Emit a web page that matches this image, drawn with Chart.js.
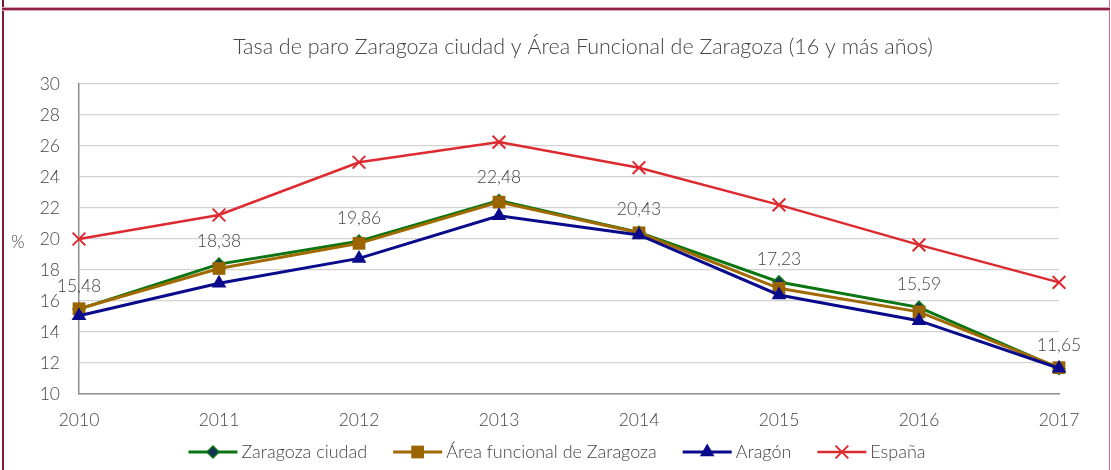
<!DOCTYPE html>
<html><head><meta charset="utf-8">
<script src="https://cdn.jsdelivr.net/npm/chart.js@4"></script>
<style>
html,body{margin:0;padding:0;background:#fff;}
#wrap{position:relative;width:1111px;height:470px;overflow:hidden;background:#fff;}
#c{position:absolute;left:0;top:0;}
.bl{position:absolute;left:2px;top:0;width:2px;height:470px;background:#7d1a3c;}
.br{position:absolute;left:1109px;top:0;width:1px;height:470px;background:#c86f90;}
.bt{position:absolute;left:2px;top:7px;width:1108px;height:2px;background:#8c1f45;border-top:1px solid #dca3b6;border-bottom:1px solid #dca3b6;}
</style></head>
<body>
<div id="wrap">
<canvas id="c" width="1111" height="470"></canvas>
<div class="bl"></div><div class="br"></div><div class="bt"></div>
</div>
<script>
const years = ['2010','2011','2012','2013','2014','2015','2016','2017'];
const zaragozaCiudad = [15.48, 18.38, 19.86, 22.48, 20.43, 17.23, 15.59, 11.65];
const areaFuncional = [15.50, 18.10, 19.72, 22.38, 20.40, 16.82, 15.30, 11.70];
const aragon = [15.05, 17.14, 18.75, 21.50, 20.26, 16.39, 14.73, 11.66];
const espana = [20.00, 21.55, 24.95, 26.25, 24.60, 22.20, 19.62, 17.20];
const seriesNames = ['Zaragoza ciudad', 'Área funcional de Zaragoza', 'Aragón', 'España'];
const titleText = 'Tasa de paro Zaragoza ciudad y Área Funcional de Zaragoza (16 y más años)';
const yAxisLabel = '%';
const yMin = 10, yMax = 30, yStep = 2;

const FONT = 'Lato, "Open Sans", sans-serif';
const TXT = '#444444';

function drawMarker(ctx, style, x, y, r, fill, stroke, bw) {
  ctx.save();
  ctx.fillStyle = fill; ctx.strokeStyle = stroke; ctx.lineWidth = bw;
  ctx.beginPath();
  if (style === 'rect') {
    const s = r * Math.SQRT1_2;
    ctx.rect(x - s, y - s, 2 * s, 2 * s); ctx.fill(); if (bw) ctx.stroke();
  } else if (style === 'rectRot') {
    ctx.moveTo(x, y - r); ctx.lineTo(x + r, y); ctx.lineTo(x, y + r); ctx.lineTo(x - r, y); ctx.closePath();
    ctx.fill(); if (bw) ctx.stroke();
  } else if (style === 'triangle') {
    ctx.moveTo(x, y - r); ctx.lineTo(x + r * 0.866, y + r * 0.5); ctx.lineTo(x - r * 0.866, y + r * 0.5); ctx.closePath();
    ctx.fill(); if (bw) ctx.stroke();
  } else if (style === 'crossRot') {
    const o = r * Math.SQRT1_2;
    ctx.moveTo(x - o, y - o); ctx.lineTo(x + o, y + o); ctx.moveTo(x + o, y - o); ctx.lineTo(x - o, y + o);
    ctx.stroke();
  }
  ctx.restore();
}

const extras = {
  id: 'extras',
  afterDatasetsDraw(chart) {
    const ctx = chart.ctx;
    const meta = chart.getDatasetMeta(0);
    ctx.save();
    ctx.font = '300 17.5px ' + FONT;
    ctx.fillStyle = TXT;
    ctx.textAlign = 'center';
    ctx.textBaseline = 'middle';
    meta.data.forEach((pt, i) => {
      const v = chart.data.datasets[0].data[i];
      ctx.fillText(v.toFixed(2).replace('.', ','), pt.x, pt.y - 23);
    });
    ctx.restore();
  },
  afterDraw(chart) {
    const ctx = chart.ctx;
    ctx.save();
    // title
    ctx.font = '300 21.5px ' + FONT;
    ctx.fillStyle = TXT;
    ctx.textAlign = 'center';
    ctx.textBaseline = 'middle';
    ctx.fillText(titleText, 583, 47);
    // y axis label
    ctx.font = '300 17px ' + FONT;
    ctx.fillText(yAxisLabel, 18, 243);
    // legend
    const lineLen = 49, gapT = 4, gapI = 26;
    ctx.font = '300 18px ' + FONT;
    const items = chart.data.datasets.map(ds => ({ds, w: ctx.measureText(ds.label).width}));
    let total = 0;
    items.forEach((it, i) => { total += lineLen + gapT + it.w + (i < items.length - 1 ? gapI : 0); });
    let x = 557 - total / 2;
    const y = 452;
    items.forEach(it => {
      const ds = it.ds;
      ctx.strokeStyle = ds.borderColor; ctx.lineWidth = ds.borderWidth;
      ctx.beginPath(); ctx.moveTo(x, y); ctx.lineTo(x + lineLen, y); ctx.stroke();
      drawMarker(ctx, ds.pointStyle, x + lineLen / 2, y, ds.pointRadius, ds.pointBackgroundColor, ds.pointBorderColor, ds.pointBorderWidth);
      ctx.fillStyle = TXT; ctx.textAlign = 'left'; ctx.textBaseline = 'middle';
      ctx.fillText(ds.label, x + lineLen + gapT, y);
      x += lineLen + gapT + it.w + gapI;
    });
    ctx.restore();
  }
};

new Chart(document.getElementById('c'), {
  type: 'line',
  data: {
    labels: years,
    datasets: [
      {label: seriesNames[0], data: zaragozaCiudad, borderColor: '#0b7512', borderWidth: 3,
       pointStyle: 'rectRot', pointRadius: 6, pointBackgroundColor: '#12335a', pointBorderColor: '#0b7512', pointBorderWidth: 1.5, order: 3, tension: 0},
      {label: seriesNames[1], data: areaFuncional, borderColor: '#a06a00', borderWidth: 3,
       pointStyle: 'rect', pointRadius: 9, pointBackgroundColor: '#9a6400', pointBorderColor: '#9a6400', pointBorderWidth: 0, order: 2, tension: 0},
      {label: seriesNames[2], data: aragon, borderColor: '#0a0a8c', borderWidth: 3,
       pointStyle: 'triangle', pointRadius: 8.5, pointBackgroundColor: '#0a0a8c', pointBorderColor: '#0a0a8c', pointBorderWidth: 0, order: 1, tension: 0},
      {label: seriesNames[3], data: espana, borderColor: '#dd2a30', borderWidth: 2.5,
       pointStyle: 'crossRot', pointRadius: 9, pointBackgroundColor: '#dd2a30', pointBorderColor: '#dd2a30', pointBorderWidth: 2, order: 0, tension: 0}
    ]
  },
  options: {
    responsive: false,
    animation: false,
    layout: {padding: {top: 84, right: 52, bottom: 0, left: 0}},
    plugins: {legend: {display: false}, title: {display: false}, tooltip: {enabled: false}},
    scales: {
      x: {
        type: 'category', offset: false,
        grid: {display: false, drawTicks: false},
        border: {display: true, color: '#8e8e8e', width: 1.5},
        ticks: {color: TXT, font: {family: FONT, size: 17.5, weight: 300}, padding: 16, maxRotation: 0, autoSkip: false},
        afterFit(s) { s.height = 76; }
      },
      y: {
        min: yMin, max: yMax,
        ticks: {stepSize: yStep, color: TXT, font: {family: FONT, size: 17.5, weight: 300}, padding: 19},
        grid: {color: '#d2d2d2', lineWidth: 1.2, drawTicks: false},
        border: {display: true, color: '#8e8e8e', width: 1.5},
        afterFit(s) { s.width = 79; }
      }
    }
  },
  plugins: [extras]
});
</script>
</body></html>
